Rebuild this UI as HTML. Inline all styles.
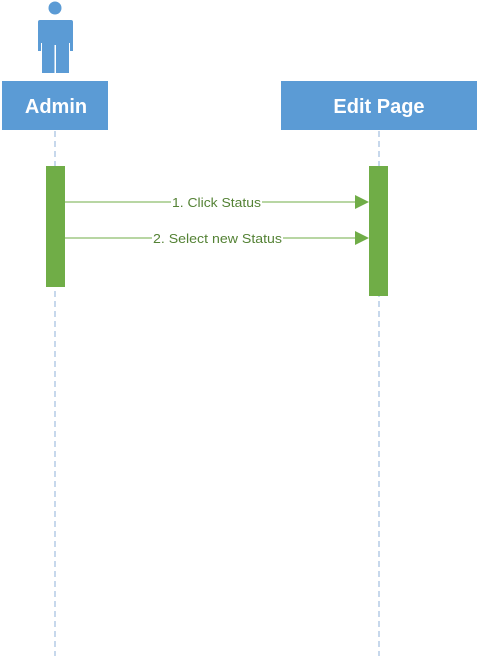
<!DOCTYPE html>
<html><head><style>html,body{margin:0;padding:0;background:#fff;}</style></head>
<body>
<svg width="479" height="656" xmlns="http://www.w3.org/2000/svg" style="display:block">
<line x1="55" y1="131" x2="55" y2="656" stroke="#8fb0d8" stroke-width="1" stroke-dasharray="6,4"/>
<line x1="379" y1="131" x2="379" y2="656" stroke="#8fb0d8" stroke-width="1" stroke-dasharray="6,4"/>
<circle cx="55" cy="8" r="6.5" fill="#5b9bd5"/>
<path d="M40 20 H71 Q73 20 73 22 V51 H70 V43 H69 V73 H56 V45 H55 V73 H42 V43 H41 V51 H38 V22 Q38 20 40 20 Z" fill="#5b9bd5"/>
<line x1="55" y1="45" x2="55" y2="73" stroke="#fff" stroke-width="1"/>
<rect x="2" y="81" width="106" height="49" fill="#5b9bd5"/>
<rect x="281" y="81" width="196" height="49" fill="#5b9bd5"/>
<text x="56" y="113" font-family="Liberation Sans, sans-serif" font-weight="bold" font-size="20" fill="#fff" text-anchor="middle">Admin</text>
<text x="379" y="113" font-family="Liberation Sans, sans-serif" font-weight="bold" font-size="20" fill="#fff" text-anchor="middle">Edit Page</text>
<rect x="46" y="166" width="19" height="121" fill="#70ad47"/>
<rect x="369" y="166" width="19" height="130" fill="#70ad47"/>
<line x1="65" y1="202" x2="171" y2="202" stroke="#70ad47" stroke-width="1"/>
<line x1="262" y1="202" x2="356" y2="202" stroke="#70ad47" stroke-width="1"/>
<polygon points="355,195 369,202 355,209" fill="#70ad47"/>
<line x1="65" y1="238" x2="152" y2="238" stroke="#70ad47" stroke-width="1"/>
<line x1="283" y1="238" x2="356" y2="238" stroke="#70ad47" stroke-width="1"/>
<polygon points="355,231 369,238 355,245" fill="#70ad47"/>
<text x="172" y="207" textLength="89" lengthAdjust="spacingAndGlyphs" font-family="Liberation Sans, sans-serif" font-size="13" fill="#548235">1. Click Status</text>
<text x="153" y="243" textLength="129" lengthAdjust="spacingAndGlyphs" font-family="Liberation Sans, sans-serif" font-size="13" fill="#548235">2. Select new Status</text>
</svg>
</body></html>
